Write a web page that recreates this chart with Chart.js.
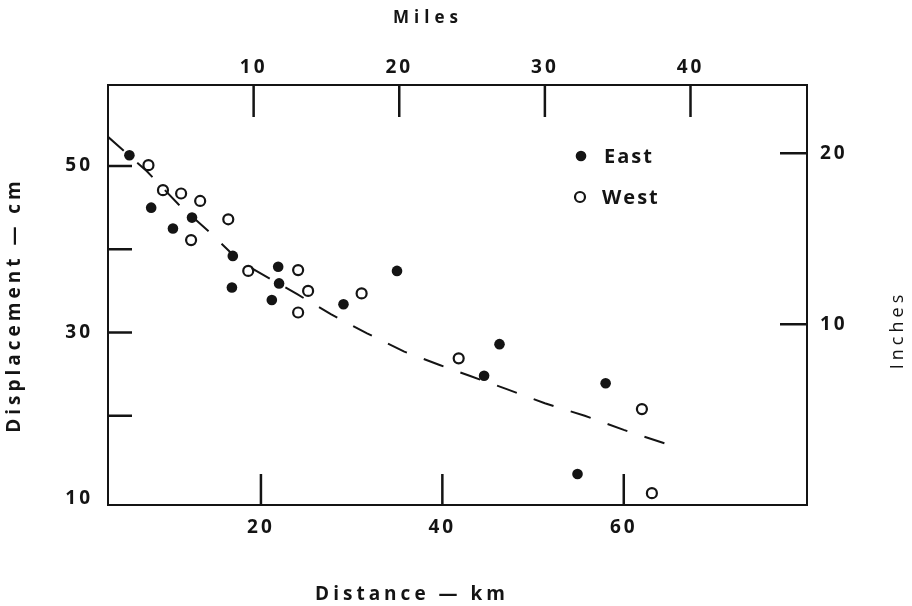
<!DOCTYPE html>
<html>
<head>
<meta charset="utf-8">
<title>Displacement vs distance</title>
<script src="https://cdn.jsdelivr.net/npm/chart.js@4.4.1/dist/chart.umd.min.js"></script>
<style>
  body { margin: 0; background: #fff; }
  #wrap { width: 912px; height: 606px; }
</style>
</head>
<body>
<div id="wrap"><canvas id="dispChart" width="912" height="606"></canvas></div>
<script>
// values (km, cm)
const eastKm = [5.5, 7.9, 12.4, 10.3, 16.9, 21.9, 16.8, 22.0, 21.2, 29.1, 35.0, 46.3, 44.6, 58.0, 54.9];
const eastCm = [51.3, 45.0, 43.8, 42.5, 39.2, 37.9, 35.4, 35.9, 33.9, 33.4, 37.4, 28.6, 24.8, 23.9, 13.0];
const westKm = [7.6, 9.2, 11.2, 13.3, 12.3, 16.4, 18.6, 24.1, 25.2, 24.1, 31.1, 41.8, 62.0, 63.1];
const westCm = [50.1, 47.1, 46.7, 45.8, 41.1, 43.6, 37.4, 37.5, 35.0, 32.4, 34.7, 26.9, 20.8, 10.7];
const trendKm = [3.14, 7.4, 10.9, 14.4, 17.7, 24.0, 27.7, 31.7, 35.8, 39.7, 43.0, 47.1, 51.3, 55.7, 60.0, 65.3];
const trendCm = [53.5, 49.4, 45.4, 42.0, 38.5, 34.6, 32.2, 29.9, 27.7, 26.1, 24.8, 23.2, 21.5, 20.0, 18.3, 16.4];

const kmTicks = [20, 40, 60];
const mileTicks = [10, 20, 30, 40];
const cmTicks = [10, 20, 30, 40, 50];
const cmLabels = [10, 30, 50];
const inchTicks = [10, 20];

const ink = '#141414';
const family = '"Open Sans", "DejaVu Sans", sans-serif';
const tickFont = { family: family, size: 19, weight: 'bold' };

const toPoints = (xs, ys) => xs.map((x, i) => ({ x: x, y: ys[i] }));
const setTicks = list => scale => { scale.ticks = list.map(v => ({ value: v })); };

// inward tick marks, axis titles and the little key
const frameExtras = {
  id: 'frameExtras',
  beforeUpdate(chart) { chart.ctx.letterSpacing = '3px'; },
  beforeDraw(chart) { chart.ctx.letterSpacing = '3px'; },
  afterDraw(chart) {
    const { ctx, scales: { x, x2, y, y2 } } = chart;
    ctx.save();
    ctx.strokeStyle = ink;
    ctx.fillStyle = ink;
    ctx.lineWidth = 2.5;
    ctx.beginPath();
    kmTicks.forEach(v => {
      const p = x.getPixelForValue(v);
      ctx.moveTo(p, x.top); ctx.lineTo(p, x.top - 31);
    });
    mileTicks.forEach(v => {
      const p = x2.getPixelForValue(v);
      ctx.moveTo(p, x2.bottom); ctx.lineTo(p, x2.bottom + 32);
    });
    cmTicks.filter(v => v > 10).forEach(v => {
      const p = y.getPixelForValue(v);
      ctx.moveTo(y.right, p); ctx.lineTo(y.right + 24, p);
    });
    inchTicks.forEach(v => {
      const p = y2.getPixelForValue(v);
      ctx.moveTo(y2.left, p); ctx.lineTo(y2.left - 27, p);
    });
    ctx.stroke();

    ctx.textAlign = 'center';
    ctx.textBaseline = 'middle';
    ctx.letterSpacing = '5px';
    ctx.font = 'bold 17px ' + family;
    ctx.fillText('Miles', 428, 18);
    ctx.letterSpacing = '4px';
    ctx.font = 'bold 19px ' + family;
    ctx.fillText('Distance — km', 412, 595);

    ctx.save();
    ctx.translate(15, 305);
    ctx.rotate(-Math.PI / 2);
    ctx.fillText('Displacement — cm', 0, 0);
    ctx.restore();

    ctx.save();
    ctx.letterSpacing = '4px';
    ctx.font = '18px ' + family;
    ctx.translate(898, 330);
    ctx.rotate(-Math.PI / 2);
    ctx.fillText('Inches', 0, 0);
    ctx.restore();

    // key
    ctx.beginPath();
    ctx.arc(581, 156, 5.3, 0, Math.PI * 2);
    ctx.fill();
    ctx.beginPath();
    ctx.lineWidth = 2.2;
    ctx.arc(580, 197, 5, 0, Math.PI * 2);
    ctx.stroke();
    ctx.textAlign = 'left';
    ctx.letterSpacing = '2px';
    ctx.font = 'bold 20px ' + family;
    ctx.fillText('East', 604, 157);
    ctx.fillText('West', 602, 198);
    ctx.restore();
  }
};

const edge = { color: ink, width: 2 };
const noGrid = { display: false, drawTicks: false };

new Chart(document.getElementById('dispChart'), {
  type: 'scatter',
  data: {
    datasets: [
      {
        label: 'East',
        data: toPoints(eastKm, eastCm),
        pointRadius: 5.3,
        pointBackgroundColor: ink,
        pointBorderWidth: 0
      },
      {
        label: 'West',
        data: toPoints(westKm, westCm),
        pointRadius: 5,
        pointBackgroundColor: 'rgba(0,0,0,0)',
        pointBorderColor: ink,
        pointBorderWidth: 2.2
      },
      {
        type: 'line',
        label: 'Trend',
        data: toPoints(trendKm, trendCm),
        borderColor: ink,
        borderWidth: 2,
        borderDash: [21, 18],
        pointRadius: 0,
        fill: false,
        tension: 0
      }
    ]
  },
  options: {
    responsive: false,
    animation: false,
    layout: { padding: 0 },
    plugins: {
      legend: { display: false },
      tooltip: { enabled: false }
    },
    scales: {
      x: {
        type: 'linear',
        position: 'bottom',
        min: 3.14,
        max: 80.2,
        afterBuildTicks: setTicks(kmTicks),
        afterFit: s => { s.height = 101; },
        grid: noGrid,
        border: edge,
        ticks: { autoSkip: false, maxRotation: 0, padding: 11, color: ink, font: tickFont }
      },
      x2: {
        type: 'linear',
        axis: 'x',
        position: 'top',
        min: 0,
        max: 48,
        afterBuildTicks: setTicks(mileTicks),
        afterFit: s => { s.height = 85; },
        grid: noGrid,
        border: edge,
        ticks: { autoSkip: false, maxRotation: 0, padding: 6, color: ink, font: tickFont }
      },
      y: {
        type: 'linear',
        position: 'left',
        min: 9.28,
        max: 59.73,
        afterBuildTicks: setTicks(cmTicks),
        afterFit: s => { s.width = 108; },
        grid: noGrid,
        border: edge,
        ticks: {
          autoSkip: false,
          padding: 15,
          color: ink,
          font: tickFont,
          callback: v => cmLabels.includes(v) ? String(v) : ''
        }
      },
      y2: {
        type: 'linear',
        axis: 'y',
        position: 'right',
        min: -0.58,
        max: 24,
        afterBuildTicks: setTicks(inchTicks),
        afterFit: s => { s.width = 105; },
        grid: noGrid,
        border: edge,
        ticks: { autoSkip: false, padding: 13, color: ink, font: tickFont }
      }
    }
  },
  plugins: [frameExtras]
});
</script>
</body>
</html>
